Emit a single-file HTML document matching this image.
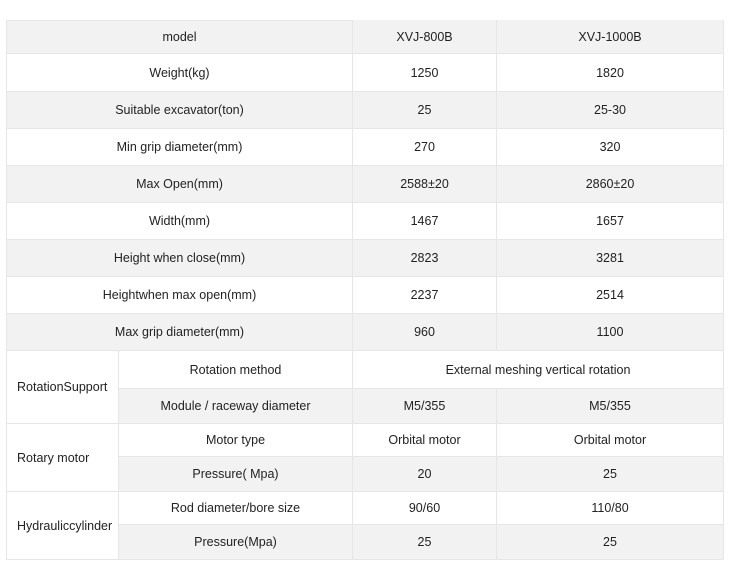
<!DOCTYPE html>
<html><head><style>
body{margin:0;width:737px;height:573px;background:#fff;position:relative;font-family:"Liberation Sans",sans-serif;font-size:12.5px;color:#222;overflow:hidden}
.c{position:absolute;display:flex;align-items:center;justify-content:center;box-sizing:border-box;border-right:1px solid #e6e6e6;border-bottom:1px solid #e6e6e6}
.g{background:#f2f2f2}
</style></head><body>
<div id="t"></div>
<script>
const rows=[
[20,54,"model","XVJ-800B","XVJ-1000B",1],
[54,92,"Weight(kg)","1250","1820",0],
[92,129,"Suitable excavator(ton)","25","25-30",1],
[129,166,"Min grip diameter(mm)","270","320",0],
[166,203,"Max Open(mm)","2588±20","2860±20",1],
[203,240,"Width(mm)","1467","1657",0],
[240,277,"Height when close(mm)","2823","3281",1],
[277,314,"Heightwhen max open(mm)","2237","2514",0],
[314,351,"Max grip diameter(mm)","960","1100",1]];
let h="";
const cell=(x,y,w,hh,txt,g,extra="")=>`<div class="c${g?' g':''}" style="left:${x}px;top:${y}px;width:${w}px;height:${hh}px;${extra}">${txt}</div>`;
for(const r of rows){const[y0,y1,a,b,c,g]=r;const hh=y1-y0;
h+=cell(6,y0,347,hh,a,g,"border-left:1px solid #e6e6e6;"+(y0==20?"border-top:1px solid #e6e6e6;":""));
h+=cell(353,y0,144,hh,b,g);h+=cell(497,y0,227,hh,c,g);}
const groups=[
[351,424,"RotationSupport",[[351,389,"Rotation method","External meshing vertical rotation",null,0],[389,424,"Module / raceway diameter","M5/355","M5/355",1]]],
[424,492,"Rotary motor",[[424,457,"Motor type","Orbital motor","Orbital motor",0],[457,492,"Pressure( Mpa)","20","25",1]]],
[492,560,"Hydrauliccylinder",[[492,525,"Rod diameter/bore size","90/60","110/80",0],[525,560,"Pressure(Mpa)","25","25",1]]]];
for(const[g0,g1,l,subs] of groups){
h+=cell(6,g0,113,g1-g0,l,0,"border-left:1px solid #e6e6e6;justify-content:flex-start;padding-left:10px;");
for(const[y0,y1,a,b,c,g] of subs){const hh=y1-y0;
h+=cell(119,y0,234,hh,a,g);
if(c===null)h+=cell(353,y0,371,hh,b,g);else{h+=cell(353,y0,144,hh,b,g);h+=cell(497,y0,227,hh,c,g);}}}
document.getElementById("t").innerHTML=h;
</script>
</body></html>
